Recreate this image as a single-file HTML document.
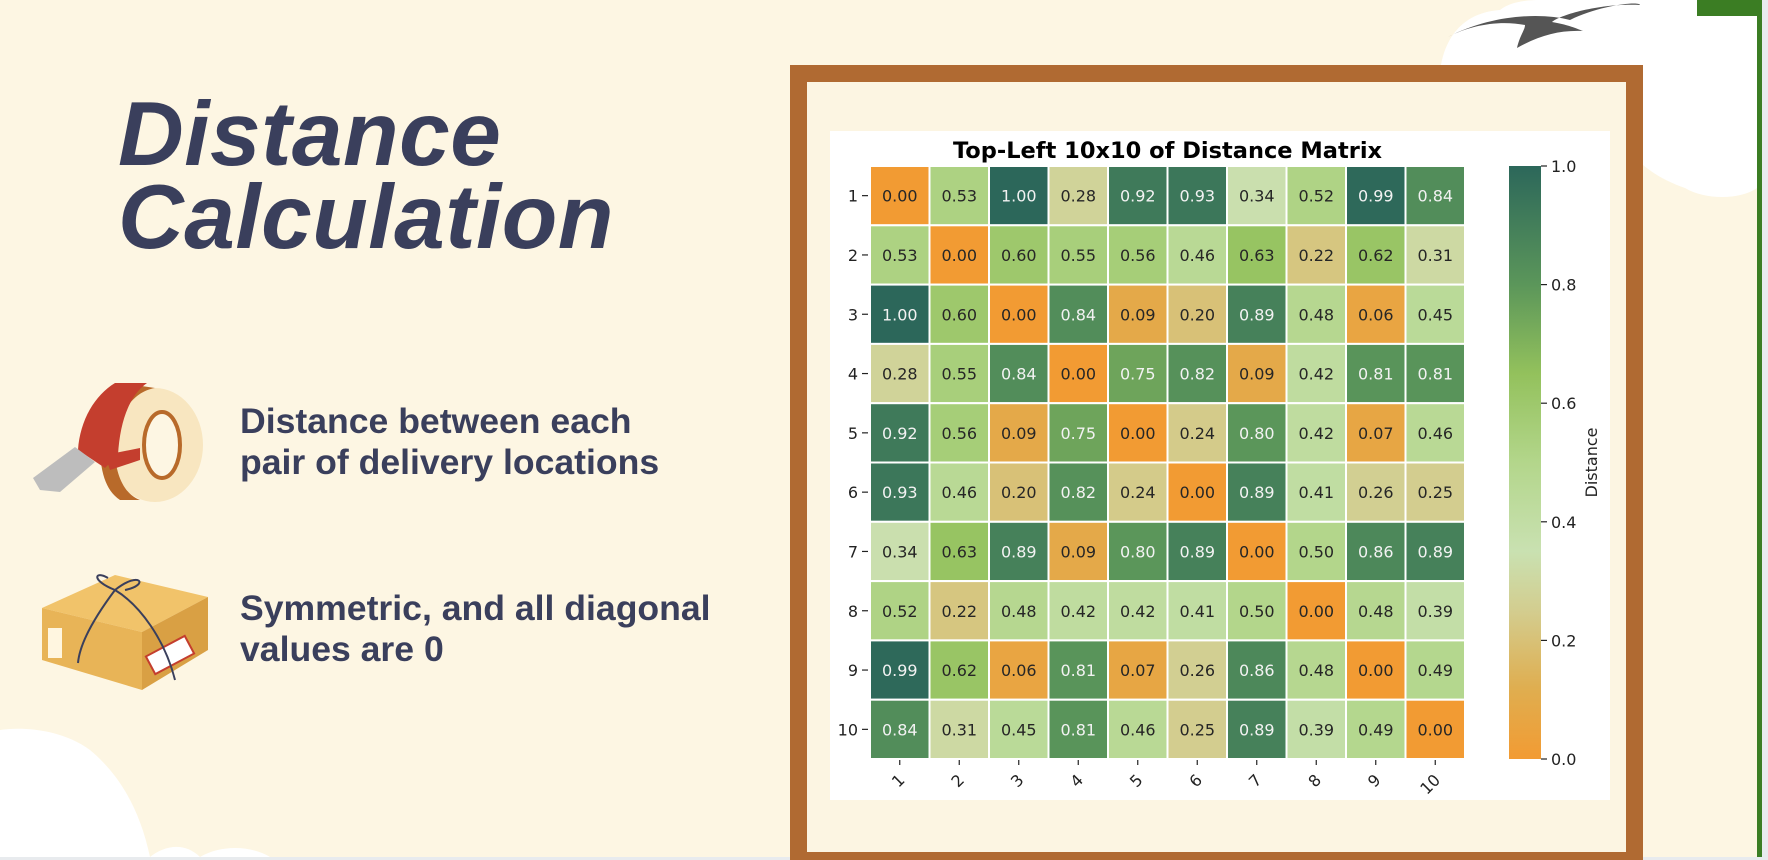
<!DOCTYPE html>
<html><head><meta charset="utf-8">
<style>
html,body{margin:0;padding:0;}
body{width:1768px;height:860px;position:relative;overflow:hidden;background:#fdf6e3;font-family:"Liberation Sans",sans-serif;}
.abs{position:absolute;}
#title{left:118px;top:93px;font-size:91px;line-height:83px;font-weight:bold;font-style:italic;color:#3a3f5c;letter-spacing:0.5px;}
.bul{left:240px;font-size:35.6px;line-height:41px;font-weight:bold;color:#3a3f5c;}
</style></head>
<body>
<svg class="abs" style="left:0;top:0;overflow:hidden" width="1768" height="860">
  <path d="M1440,72 C1445,30 1470,12 1500,10 C1510,2 1525,0 1540,0 L1740,0 C1757,0 1757,10 1757,20 L1757,188 C1740,200 1705,200 1685,188 C1668,182 1655,175 1643,165 L1643,65 Z" fill="#ffffff"/>
  <path d="M1448,37 C1490,15 1540,12 1570,20 C1600,5 1640,1 1640,5 C1600,3 1560,15 1552,22 C1570,25 1580,30 1583,31 C1560,30 1540,35 1517,48 C1520,35 1525,30 1525,25 C1500,20 1470,25 1448,37 Z" fill="#555"/>
  <rect x="1757" y="0" width="5" height="860" fill="#3b7d23"/>
  <rect x="1697" y="0" width="65" height="16" fill="#3b7d23"/>
  <rect x="1762" y="0" width="6" height="860" fill="#e8ebee"/>
  <path d="M0,860 L0,730 C20,727 60,728 90,750 C120,775 140,810 150,857 C165,845 185,842 200,857 L0,857Z" fill="#ffffff"/>
  <path d="M200,857 C220,845 250,845 270,857Z" fill="#ffffff"/>
  <rect x="0" y="857" width="1768" height="3" fill="#e8ebee"/>
  <g>
    <ellipse cx="155" cy="445" rx="48" ry="57" fill="#f8e6c0"/>
    <path d="M100,445 C100,410 120,385 135,385 L155,388 C130,392 115,420 115,450 C115,475 125,495 140,500 L120,500 C105,490 100,470 100,445Z" fill="#b86a2a"/>
    <ellipse cx="162" cy="445" rx="18" ry="33" fill="#fdf6e3" stroke="#b86a2a" stroke-width="4"/>
    <path d="M115,383 L147,383 C130,395 120,420 118,455 L105,468 L78,450 C80,420 95,395 115,383Z" fill="#c43e2e"/>
    <path d="M105,455 L140,448 L140,460 L110,470Z" fill="#c43e2e"/>
    <path d="M33,478 L75,447 L95,462 L60,492 L40,490Z" fill="#bdbdbd"/>
  </g>
  <g>
    <path d="M42,608 L115,575 L208,597 L142,632Z" fill="#f1c36a"/>
    <path d="M42,608 L142,632 L142,690 L42,660Z" fill="#e8b457"/>
    <path d="M142,632 L208,597 L208,650 L142,690Z" fill="#d9a044"/>
    <rect x="48" y="628" width="14" height="30" fill="#fff6e0"/>
    <rect x="148" y="645" width="44" height="20" fill="#fff" stroke="#c43e2e" stroke-width="2" transform="rotate(-28 170 655)"/>
    <path d="M78,663 C80,640 100,610 115,590 M115,590 C90,580 95,570 108,578 M115,590 C140,570 150,585 125,590 M115,590 C140,605 165,640 175,680" stroke="#3a3f5c" stroke-width="2" fill="none"/>
  </g>
  <rect x="790" y="65" width="853" height="795" fill="#b06a32"/>
  <rect x="807" y="82" width="819" height="770" fill="#fcf5e2"/>
  <rect x="830" y="131" width="780" height="669" fill="#ffffff"/>
</svg>

<div id="title" class="abs">Distance<br>Calculation</div>
<div class="abs bul" style="top:401px">Distance between each<br>pair of delivery locations</div>
<div class="abs bul" style="top:588px">Symmetric, and all diagonal<br>values are 0</div>

<svg id="chart" class="abs" style="left:0;top:0;overflow:hidden" width="1768" height="860">
  <defs>
    <linearGradient id="cb" x1="0" y1="1" x2="0" y2="0">
      <stop offset="0" stop-color="#f29b33"/>
      <stop offset="0.12" stop-color="#dfae50"/>
      <stop offset="0.25" stop-color="#d3cd8f"/>
      <stop offset="0.35" stop-color="#c9e1b1"/>
      <stop offset="0.5" stop-color="#b3d68b"/>
      <stop offset="0.65" stop-color="#93c15c"/>
      <stop offset="0.8" stop-color="#5b965a"/>
      <stop offset="1" stop-color="#2c675a"/>
    </linearGradient>
  </defs>
</svg>
<script>
const labels = ["1","2","3","4","5","6","7","8","9","10"];
const row1 = [0.00,0.53,1.00,0.28,0.92,0.93,0.34,0.52,0.99,0.84];
const row2 = [0.53,0.00,0.60,0.55,0.56,0.46,0.63,0.22,0.62,0.31];
const row3 = [1.00,0.60,0.00,0.84,0.09,0.20,0.89,0.48,0.06,0.45];
const row4 = [0.28,0.55,0.84,0.00,0.75,0.82,0.09,0.42,0.81,0.81];
const row5 = [0.92,0.56,0.09,0.75,0.00,0.24,0.80,0.42,0.07,0.46];
const row6 = [0.93,0.46,0.20,0.82,0.24,0.00,0.89,0.41,0.26,0.25];
const row7 = [0.34,0.63,0.89,0.09,0.80,0.89,0.00,0.50,0.86,0.89];
const row8 = [0.52,0.22,0.48,0.42,0.42,0.41,0.50,0.00,0.48,0.39];
const row9 = [0.99,0.62,0.06,0.81,0.07,0.26,0.86,0.48,0.00,0.49];
const row10 = [0.84,0.31,0.45,0.81,0.46,0.25,0.89,0.39,0.49,0.00];
const matrix = [row1,row2,row3,row4,row5,row6,row7,row8,row9,row10];
const cbTicks = [0.0,0.2,0.4,0.6,0.8,1.0];
const chartTitle = "Top-Left 10x10 of Distance Matrix";

const NS="http://www.w3.org/2000/svg";
const svg=document.getElementById('chart');
const X0=870,X1=1465,Y0=166,Y1=759;
const n=labels.length;
const cw=(X1-X0)/n, ch=(Y1-Y0)/n;
const xPos=i=>X0+i*cw, yPos=i=>Y0+i*ch;
const CB={x:1509,w:32};
const cbY=v=>Y1-(v)*(Y1-Y0);
const stops=[[0,[242,155,51]],[0.12,[223,174,80]],[0.25,[211,205,143]],[0.35,[201,225,177]],[0.5,[179,214,139]],[0.65,[147,193,92]],[0.8,[91,150,90]],[1,[44,103,90]]];
function color(v){
  for(let k=1;k<stops.length;k++){
    if(v<=stops[k][0]){const a=stops[k-1],b=stops[k];const t=(v-a[0])/(b[0]-a[0]);
      const c=a[1].map((x,j)=>Math.round(x+(b[1][j]-x)*t));return `rgb(${c})`;}
  }
  return 'rgb(44,103,90)';
}
function mk(tag,attrs,txt){const e=document.createElementNS(NS,tag);for(const k in attrs)e.setAttribute(k,attrs[k]);if(txt!==undefined)e.textContent=txt;svg.appendChild(e);return e;}
const F='"DejaVu Sans","Liberation Sans",sans-serif';
let t=mk('text',{x:(X0+X1)/2,y:158,'text-anchor':'middle','font-family':F,'font-size':22.5,'font-weight':'bold',fill:'#000'},chartTitle);


matrix.forEach((row,r)=>{
  row.forEach((v,c)=>{
    const rc=mk('rect',{x:xPos(c),y:yPos(r),width:cw,height:ch,fill:color(v),stroke:'#ffffff','stroke-width':2});
    
    
    const tx=mk('text',{x:xPos(c)+cw/2,y:yPos(r)+ch/2+6,'text-anchor':'middle','font-family':F,'font-size':16,fill:v>0.7?'#f2f2f2':'#262626'},v.toFixed(2));
    
    
  });
});
labels.forEach((l,i)=>{
  const yl=mk('text',{x:X0-12,y:yPos(i)+ch/2+6,'text-anchor':'end','font-family':F,'font-size':16,fill:'#222'},l);
  
  
  mk('line',{x1:X0-8,x2:X0-2,y1:yPos(i)+ch/2,y2:yPos(i)+ch/2,stroke:'#222','stroke-width':1.2});
  const cx=xPos(i)+cw/2;
  mk('line',{x1:cx,x2:cx,y1:Y1+1,y2:Y1+6,stroke:'#222','stroke-width':1.2});
  const xl=mk('text',{x:cx+6,y:Y1+22,'text-anchor':'end','font-family':F,'font-size':16,fill:'#222',transform:`rotate(-45 ${cx+6} ${Y1+22})`},l);
  
  
});
const cb=mk('rect',{x:CB.x,y:Y0,width:CB.w,height:Y1-Y0,fill:'url(#cb)'});


cbTicks.forEach(v=>{
  const y=cbY(v);
  mk('line',{x1:CB.x+CB.w,x2:CB.x+CB.w+6,y1:y,y2:y,stroke:'#222','stroke-width':1.2});
  const tl=mk('text',{x:CB.x+CB.w+10,y:y+6,'font-family':F,'font-size':16,fill:'#222'},v.toFixed(1));
  
  
});
const cl=mk('text',{x:1597,y:(Y0+Y1)/2,'text-anchor':'middle','font-family':F,'font-size':16,fill:'#222',transform:`rotate(-90 1597 ${(Y0+Y1)/2})`},'Distance');


</script>
</body></html>
